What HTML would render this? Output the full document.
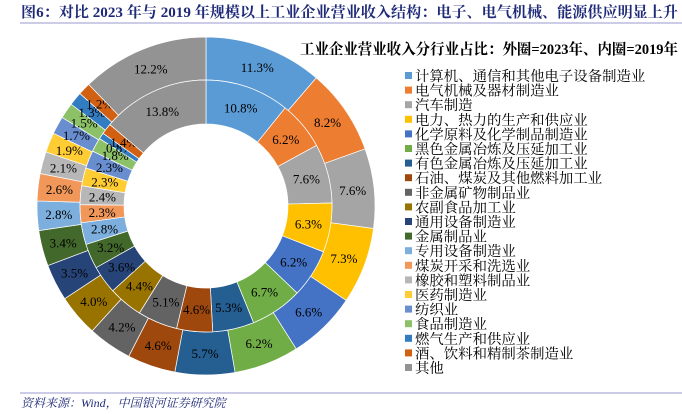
<!DOCTYPE html>
<html><head><meta charset="utf-8">
<style>
html,body{margin:0;padding:0;background:#fff;width:682px;height:414px;overflow:hidden}
svg{display:block}
</style></head>
<body>
<svg id="chart" width="682" height="414" xmlns="http://www.w3.org/2000/svg">
  <text x="21" y="17" font-family="'Liberation Serif','Noto Serif CJK SC',serif" font-size="14.6" font-weight="bold" fill="#1f2a78" textLength="657" lengthAdjust="spacingAndGlyphs">图6：对比 2023 年与 2019 年规模以上工业企业营业收入结构：电子、电气机械、能源供应明显上升</text>
  <line x1="20" y1="23" x2="682" y2="23" stroke="#9a98cc" stroke-width="1"/>
  <text x="300" y="54" font-family="'Liberation Serif','Noto Serif CJK SC',serif" font-size="15" font-weight="bold" fill="#000" textLength="378" lengthAdjust="spacingAndGlyphs">工业企业营业收入分行业占比：外圈=2023年、内圈=2019年</text>
  <g id="rings"></g>
  <g id="legend"></g>
  <line x1="20" y1="393" x2="682" y2="393" stroke="#9a98cc" stroke-width="1"/>
  <text x="21" y="407" font-family="'Liberation Serif','Noto Serif CJK SC',serif" font-size="12" font-style="italic" fill="#1f2a78">资料来源：Wind，中国银河证券研究院</text>
</svg>
<script>
const categories = ["计算机、通信和其他电子设备制造业","电气机械及器材制造业","汽车制造","电力、热力的生产和供应业","化学原料及化学制品制造业","黑色金属冶炼及压延加工业","有色金属冶炼及压延加工业","石油、煤炭及其他燃料加工业","非金属矿物制品业","农副食品加工业","通用设备制造业","金属制品业","专用设备制造业","煤炭开采和洗选业","橡胶和塑料制品业","医药制造业","纺织业","食品制造业","燃气生产和供应业","酒、饮料和精制茶制造业","其他"];
const values2023 = [11.3,8.2,7.6,7.3,6.6,6.2,5.7,4.6,4.2,4.0,3.5,3.4,2.8,2.6,2.1,1.9,1.7,1.5,1.3,1.2,12.2];
const values2019 = [10.8,6.2,7.6,6.3,6.2,6.7,5.3,4.6,5.1,4.4,3.6,3.2,2.8,2.3,2.4,2.3,2.3,1.8,0.8,1.4,13.8];
const colors = ["#5b9bd5","#ed7d31","#a5a5a5","#ffc000","#4472c4","#70ad47","#255e91","#9e480e","#636363","#997300","#264478","#43682b","#7cafdd","#f1975a","#b7b7b7","#ffcd33","#698ed0","#8cc168","#327dc2","#d26012","#939393"];

const NS="http://www.w3.org/2000/svg";
const cx=206, cy=206;
const rings=document.getElementById('rings');
function pt(r,a){return [cx+r*Math.sin(a), cy-r*Math.cos(a)];}
function drawRing(vals, r0, r1, name){
  const tot=vals.reduce((a,b)=>a+b,0);
  let a=0;
  vals.forEach((v,i)=>{
    const a0=a, a1=a+v/tot*2*Math.PI; a=a1;
    const [x0,y0]=pt(r1,a0),[x1,y1]=pt(r1,a1),[x2,y2]=pt(r0,a1),[x3,y3]=pt(r0,a0);
    const lg=(a1-a0)>Math.PI?1:0;
    const p=document.createElementNS(NS,'path');
    p.setAttribute('d',`M${x0},${y0}A${r1},${r1} 0 ${lg} 1 ${x1},${y1}L${x2},${y2}A${r0},${r0} 0 ${lg} 0 ${x3},${y3}Z`);
    p.setAttribute('fill',colors[i]);
    p.setAttribute('stroke','#fff');
    p.setAttribute('stroke-width','0.7');
    
    
    rings.appendChild(p);
    const [tx,ty]=pt((r0+r1)/2,(a0+a1)/2);
    const t=document.createElementNS(NS,'text');
    t.setAttribute('x',tx);t.setAttribute('y',ty+4.5);
    t.setAttribute('text-anchor','middle');
    t.setAttribute('font-family',"'Liberation Serif',serif");
    t.setAttribute('font-size','13');
    t.setAttribute('fill','#000');
    t.textContent=v.toFixed(1)+'%';
    
    
    rings.appendChild(t);
  });
}
drawRing(values2023,126,169,'outer-2023');
drawRing(values2019,82,126,'inner-2019');

const legend=document.getElementById('legend');
categories.forEach((c,i)=>{
  const y=76+i*14.6;
  const r=document.createElementNS(NS,'rect');
  r.setAttribute('x',405);r.setAttribute('y',y-4);r.setAttribute('width',7);r.setAttribute('height',7);
  r.setAttribute('fill',colors[i]);
  
  
  legend.appendChild(r);
  const t=document.createElementNS(NS,'text');
  t.setAttribute('x',415);t.setAttribute('y',y+5);
  t.setAttribute('font-family',"'Liberation Serif','Noto Serif CJK SC',serif");
  t.setAttribute('font-size','14.4');
  t.setAttribute('fill','#000');
  t.textContent=c;
  
  
  legend.appendChild(t);
});
</script>
</body></html>
